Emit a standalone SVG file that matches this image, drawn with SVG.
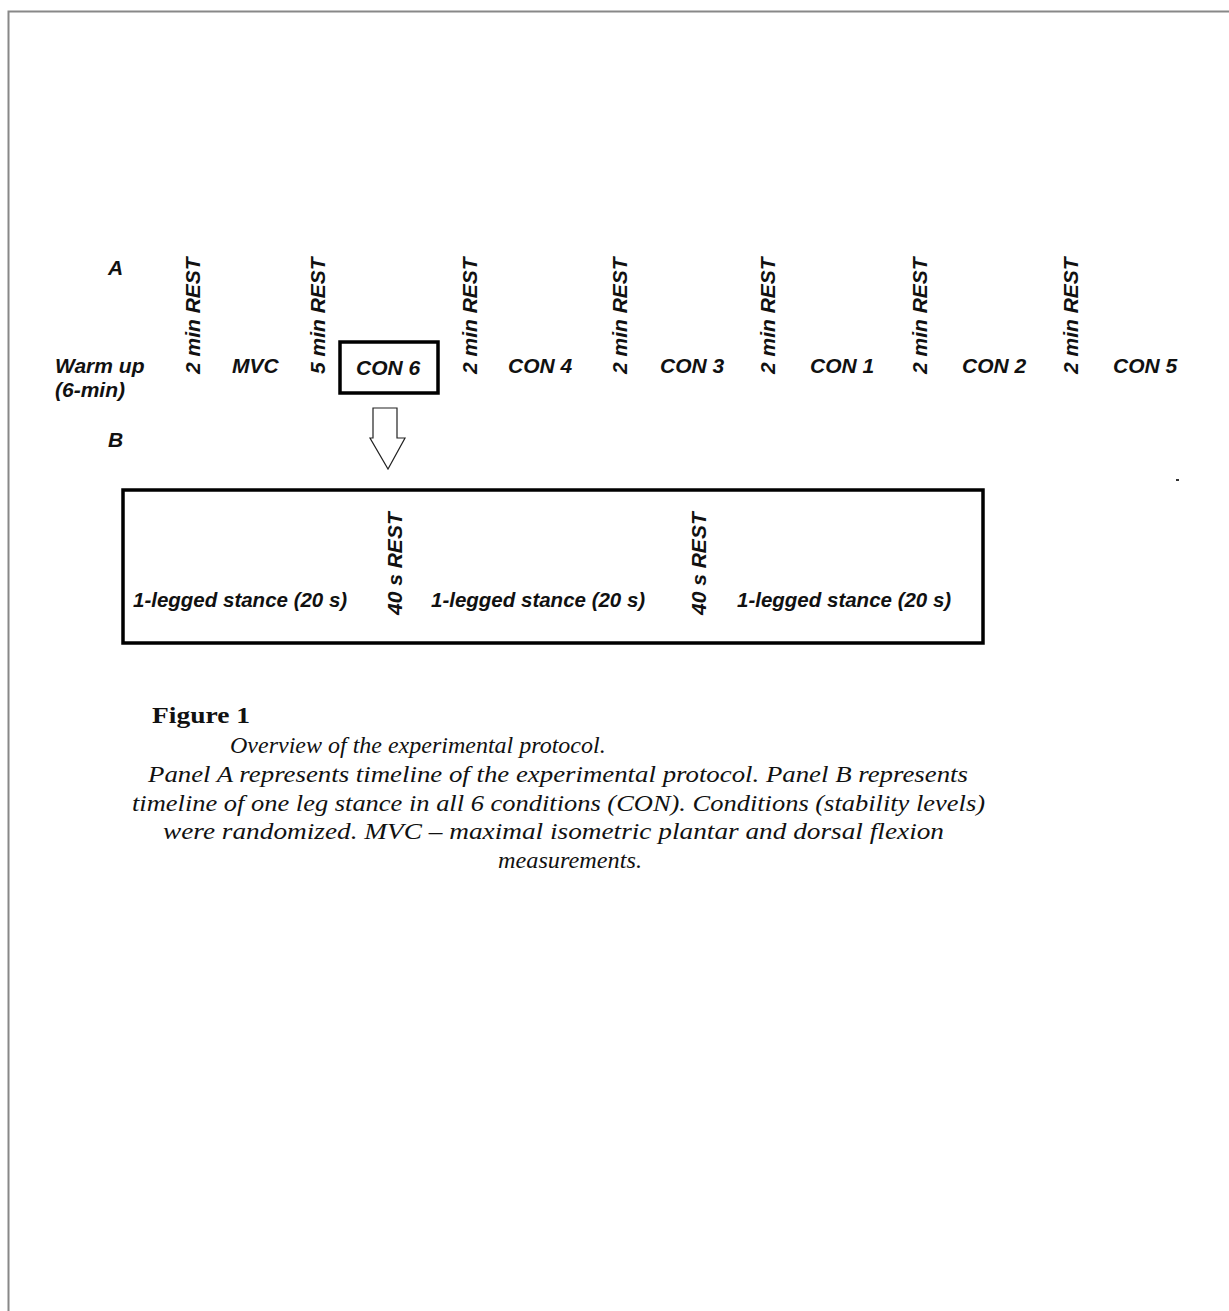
<svg xmlns="http://www.w3.org/2000/svg" width="1229" height="1311" viewBox="0 0 1229 1311">
<style>
.lbl{font-family:"Liberation Sans",Arial,sans-serif;font-weight:bold;font-style:italic;font-size:21px;fill:#111}
.stance{font-family:"Liberation Sans",Arial,sans-serif;font-weight:bold;font-style:italic;font-size:20.5px;fill:#111}
.box{fill:none;stroke:#000;stroke-width:3.5}
.cap{font-family:"Liberation Serif","Times New Roman",serif;font-style:italic;font-size:24px;fill:#111}
.fig{font-family:"Liberation Serif","Times New Roman",serif;font-weight:bold;font-size:24px;fill:#111}
</style>
<rect width="1229" height="1311" fill="#fff"/>
<path d="M8.5 1311 V11.5 H1229" fill="none" stroke="#888" stroke-width="2"/>

<g id="panelA">
<text class="lbl" x="108" y="275">A</text>
<g id="warmup"><text class="lbl" x="55" y="373">Warm up</text><text class="lbl" x="55" y="397">(6-min)</text></g>
<g id="rest1"><text class="lbl" transform="translate(200,374) rotate(-90)">2 min REST</text></g>
<g id="mvc"><text class="lbl" x="232" y="373">MVC</text></g>
<g id="rest2"><text class="lbl" transform="translate(325,374) rotate(-90)">5 min REST</text></g>
<g id="con6"><rect class="box" x="340" y="342" width="98" height="51"/><text class="lbl" x="356" y="375">CON 6</text></g>
<g id="rest3"><text class="lbl" transform="translate(477,374) rotate(-90)">2 min REST</text></g>
<g id="con4"><text class="lbl" x="508" y="373">CON 4</text></g>
<g id="rest4"><text class="lbl" transform="translate(627,374) rotate(-90)">2 min REST</text></g>
<g id="con3"><text class="lbl" x="660" y="373">CON 3</text></g>
<g id="rest5"><text class="lbl" transform="translate(775,374) rotate(-90)">2 min REST</text></g>
<g id="con1"><text class="lbl" x="810" y="373">CON 1</text></g>
<g id="rest6"><text class="lbl" transform="translate(927,374) rotate(-90)">2 min REST</text></g>
<g id="con2"><text class="lbl" x="962" y="373">CON 2</text></g>
<g id="rest7"><text class="lbl" transform="translate(1078,374) rotate(-90)">2 min REST</text></g>
<g id="con5"><text class="lbl" x="1113" y="373">CON 5</text></g>
</g>

<g id="connectors">
<path d="M373 408 H397 V438 H405 L388 469 L370 438 H373 Z" fill="#fff" stroke="#222" stroke-width="1.2" stroke-linejoin="miter"/>
</g>

<text class="lbl" x="108" y="447">B</text>
<rect x="1176" y="479" width="3" height="2" fill="#333"/>

<g id="panelB">
<rect class="box" x="123" y="490" width="860" height="153"/>
<g id="stance1"><text class="stance" x="133" y="607">1-legged stance (20 s)</text></g>
<g id="restB1"><text class="lbl" transform="translate(402,615) rotate(-90)">40 s REST</text></g>
<g id="stance2"><text class="stance" x="431" y="607">1-legged stance (20 s)</text></g>
<g id="restB2"><text class="lbl" transform="translate(706,615) rotate(-90)">40 s REST</text></g>
<g id="stance3"><text class="stance" x="737" y="607">1-legged stance (20 s)</text></g>
</g>

<g id="caption">
<text class="fig" x="152" y="723" textLength="98" lengthAdjust="spacingAndGlyphs">Figure 1</text>
<text class="cap" x="230" y="753">Overview of the experimental protocol.</text>
<text class="cap" x="148" y="782" textLength="820" lengthAdjust="spacingAndGlyphs">Panel A represents timeline of the experimental protocol. Panel B represents</text>
<text class="cap" x="132" y="811" textLength="853" lengthAdjust="spacingAndGlyphs">timeline of one leg stance in all 6 conditions (CON). Conditions (stability levels)</text>
<text class="cap" x="163" y="839" textLength="781" lengthAdjust="spacingAndGlyphs">were randomized. MVC – maximal isometric plantar and dorsal flexion</text>
<text class="cap" x="498" y="868" textLength="144" lengthAdjust="spacingAndGlyphs">measurements.</text>
</g>
</svg>
